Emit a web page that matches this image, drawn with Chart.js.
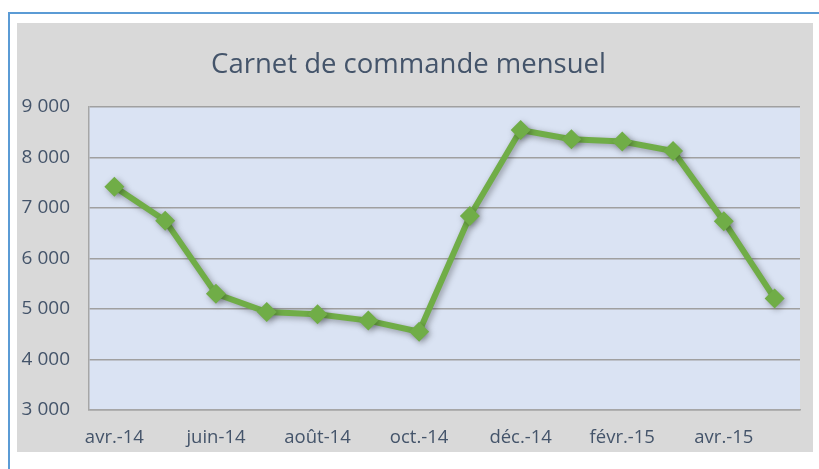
<!DOCTYPE html>
<html>
<head>
<meta charset="utf-8">
<script src="https://cdn.jsdelivr.net/npm/chart.js@4"></script>
<style>
html,body{margin:0;padding:0;background:#fff;}
#wrap{position:relative;width:819px;height:469px;}
</style>
</head>
<body>
<div id="wrap"><canvas id="c" width="819" height="469"></canvas></div>
<script>
const months = ['avr.-14','mai-14','juin-14','juil.-14','août-14','sept.-14','oct.-14','nov.-14','déc.-14','janv.-15','févr.-15','mars-15','avr.-15','mai-15'];
const carnet = [7420, 6750, 5300, 4940, 4895, 4770, 4550, 6840, 8545, 8360, 8315, 8130, 6740, 5210];
const yMin = 3000, yMax = 9000, yStep = 1000;
const titleText = 'Carnet de commande mensuel';

function fmt(v){ return String(v).replace(/\B(?=(\d{3})+(?!\d))/g,' '); }

const framePlugin = {
  id:'frame',
  beforeDraw(chart){
    const ctx = chart.ctx, a = chart.chartArea;
    ctx.save();
    ctx.fillStyle = '#ffffff';
    ctx.fillRect(0,0,chart.width,chart.height);
    ctx.fillStyle = '#d9d9d9';
    ctx.fillRect(17,23,796,429);
    ctx.strokeStyle = '#5b9bd5';
    ctx.lineWidth = 2;
    ctx.strokeRect(9,13,830,480);
    ctx.fillStyle = '#dae3f3';
    ctx.fillRect(a.left,a.top,a.right-a.left,a.bottom-a.top);
    ctx.restore();
  },
  beforeDatasetsDraw(chart){
    const ctx = chart.ctx;
    ctx.save();
    ctx.shadowColor = 'rgba(0,0,0,0.35)';
    ctx.shadowBlur = 6;
    ctx.shadowOffsetX = 2;
    ctx.shadowOffsetY = 2;
  },
  afterDatasetsDraw(chart){
    chart.ctx.restore();
  }
};

new Chart(document.getElementById('c'), {
  type:'line',
  data:{
    labels: months,
    datasets:[{
      label:'Carnet',
      data: carnet,
      borderColor:'#70ad47',
      backgroundColor:'#70ad47',
      borderWidth:6,
      pointStyle:'rectRot',
      pointRadius:10,
      pointBackgroundColor:'#70ad47',
      pointBorderColor:'#70ad47',
      pointBorderWidth:0,
      tension:0,
      clip:false
    }]
  },
  options:{
    responsive:false,
    animation:false,
    devicePixelRatio:1,
    layout:{padding:{left:17,right:19,top:0,bottom:17}},
    plugins:{
      legend:{display:false},
      tooltip:{enabled:false},
      title:{
        display:true,
        text:titleText,
        color:'#44546a',
        font:{family:'"Open Sans"',size:27.5,weight:'normal',lineHeight:1.2},
        padding:{top:49,bottom:25}
      }
    },
    scales:{
      x:{
        offset:true,
        grid:{display:false, drawTicks:false},
        border:{display:true,color:'#a6a6a6',width:1.5},
        ticks:{
          autoSkip:false,maxRotation:0,minRotation:0,
          color:'#44546a',
          font:{family:'"Open Sans"',size:18.5},
          padding:17,
          callback:function(v,i){ return i%2===0 ? months[i] : ''; }
        },
        afterFit(s){ s.height = 42; }
      },
      y:{
        min:yMin,max:yMax,
        grid:{color:'#a0a0a0',lineWidth:1.5,drawTicks:false},
        border:{display:true,color:'#a6a6a6',width:1.5},
        ticks:{
          stepSize:yStep,
          color:'#44546a',
          font:{family:'"Open Sans"',size:19},
          padding:19,
          callback:function(v){ return fmt(v); }
        },
        afterFit(s){ s.width = 72; }
      }
    }
  },
  plugins:[framePlugin]
});
</script>
</body>
</html>
